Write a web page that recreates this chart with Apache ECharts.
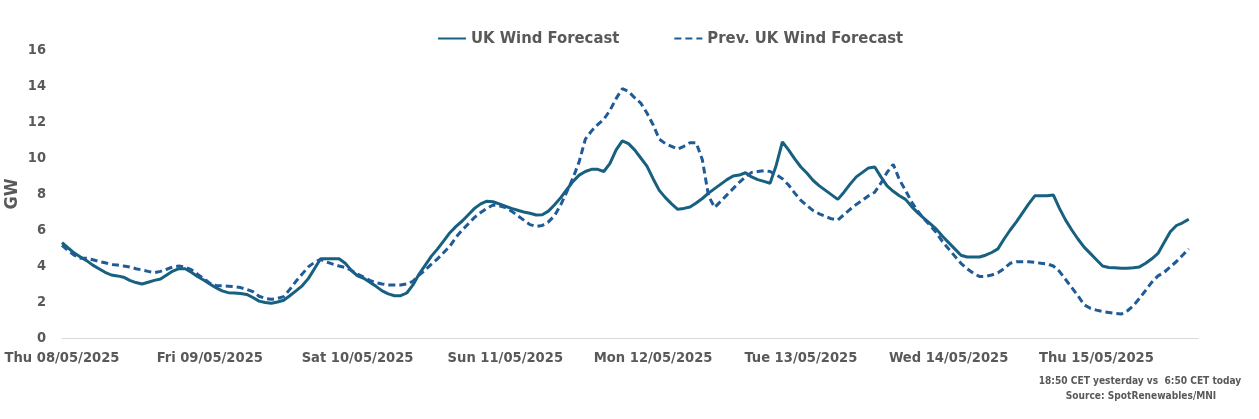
<!DOCTYPE html>
<html>
<head>
<meta charset="utf-8">
<script src="https://cdn.jsdelivr.net/npm/echarts@6/dist/echarts.min.js"></script>
<style>
html,body{margin:0;padding:0;background:#fff;}
#chart{width:1259px;height:419px;}
</style>
</head>
<body>
<div id="chart"></div>
<script>
// Day labels (one per 24 hours from Thu 08/05/2025 00:00)
const dayLabels = ["Thu 08/05/2025","Fri 09/05/2025","Sat 10/05/2025","Sun 11/05/2025","Mon 12/05/2025","Tue 13/05/2025","Wed 14/05/2025","Thu 15/05/2025"];
const yTicks = [0,2,4,6,8,10,12,14,16];

// Hourly values, GW (hour 0 = Thu 08/05/2025 00:00)
const ukWindForecast = [
5.3,5.0,4.72,4.5,4.3,4.05,3.85,3.65,3.5,3.45,3.38,3.2,3.08,3.0,3.1,3.2,3.28,3.5,3.72,3.85,3.85,3.65,3.42,3.22,
3.0,2.8,2.62,2.52,2.5,2.47,2.42,2.25,2.05,1.97,1.93,2.0,2.1,2.35,2.62,2.9,3.3,3.85,4.4,4.4,4.4,4.4,4.15,3.75,
3.45,3.32,3.1,2.87,2.62,2.45,2.35,2.35,2.5,2.95,3.55,4.05,4.55,4.95,5.4,5.85,6.2,6.5,6.85,7.2,7.45,7.6,7.57,7.45,
7.32,7.2,7.1,7.0,6.93,6.83,6.85,7.05,7.4,7.8,8.25,8.7,9.05,9.25,9.37,9.37,9.25,9.7,10.45,10.95,10.8,10.45,10.0,9.55,
8.85,8.2,7.8,7.45,7.15,7.2,7.28,7.5,7.75,8.05,8.3,8.55,8.8,9.0,9.05,9.18,8.95,8.8,8.7,8.6,9.6,10.9,10.45,9.95,
9.5,9.15,8.75,8.45,8.2,7.95,7.7,8.1,8.55,8.95,9.2,9.45,9.5,8.95,8.45,8.15,7.9,7.7,7.3,6.95,6.65,6.35,6.05,5.65,
5.3,4.95,4.6,4.5,4.5,4.5,4.6,4.75,4.95,5.5,6.0,6.45,6.95,7.45,7.9,7.9,7.9,7.95,7.2,6.55,6.0,5.5,5.05,4.7,
4.35,4.0,3.92,3.9,3.88,3.88,3.9,3.95,4.15,4.4,4.7,5.3,5.9,6.25,6.4,6.6
];
const prevUkWindForecast = [
5.15,4.85,4.6,4.43,4.43,4.35,4.25,4.18,4.08,4.05,4.0,3.95,3.85,3.78,3.7,3.63,3.7,3.82,3.95,4.0,3.93,3.8,3.55,3.3,
3.05,2.92,2.9,2.88,2.85,2.8,2.7,2.58,2.32,2.2,2.15,2.2,2.3,2.7,3.15,3.55,3.95,4.2,4.37,4.22,4.1,4.0,3.92,3.75,
3.55,3.38,3.2,3.07,3.0,2.95,2.94,2.94,3.0,3.15,3.5,3.78,4.1,4.4,4.75,5.1,5.6,6.0,6.35,6.7,6.97,7.2,7.39,7.35,
7.25,7.05,6.8,6.55,6.3,6.2,6.25,6.45,6.8,7.4,8.13,8.9,9.8,11.05,11.5,11.85,12.15,12.65,13.3,13.85,13.7,13.35,13.05,12.5,
11.85,11.05,10.8,10.65,10.5,10.65,10.85,10.85,9.9,7.9,7.25,7.6,7.95,8.3,8.65,8.95,9.2,9.25,9.3,9.25,9.07,8.85,8.5,8.05,
7.65,7.35,7.08,6.9,6.75,6.62,6.56,6.85,7.15,7.42,7.65,7.9,8.1,8.6,9.2,9.65,8.8,8.2,7.55,7.05,6.62,6.25,5.85,5.35,
4.95,4.55,4.15,3.85,3.6,3.42,3.42,3.5,3.62,3.85,4.15,4.24,4.24,4.23,4.2,4.15,4.12,4.0,3.7,3.25,2.8,2.35,1.85,1.65,
1.55,1.47,1.42,1.37,1.33,1.5,1.8,2.2,2.65,3.1,3.45,3.65,3.95,4.25,4.6,4.95
];

const toPairs = arr => arr.map((v, i) => [i, v]);
const FONT = '"DejaVu Sans Condensed","Liberation Sans Narrow","Liberation Sans",sans-serif';
const GREY = '#595959';

const chart = echarts.init(document.getElementById('chart'));
chart.setOption({
  animation: false,
  backgroundColor: '#fff',
  grid: {left: 62, right: 61, top: 50, bottom: 81, containLabel: false, outerBoundsMode: 'none'},
  legend: {
    top: 25, left: 432,
    itemWidth: 28, itemHeight: 3, itemGap: 54,
    itemStyle: {opacity: 0},
    textStyle: {fontFamily: FONT, fontWeight: 'bold', fontSize: 16.5, color: GREY},
    data: ['UK Wind Forecast', 'Prev. UK Wind Forecast']
  },
  xAxis: {
    type: 'value', min: 0, max: 184.5, interval: 24,
    axisLine: {show: true, lineStyle: {color: '#d9d9d9', width: 1}},
    axisTick: {show: false},
    splitLine: {show: false},
    axisLabel: {
      showMaxLabel: false, margin: 13,
      fontFamily: FONT, fontWeight: 'bold', fontSize: 14.6, color: GREY,
      formatter: v => dayLabels[Math.round(v / 24)] || ''
    }
  },
  yAxis: {
    type: 'value', min: 0, max: 16, interval: 2,
    axisLine: {show: false}, axisTick: {show: false}, splitLine: {show: false},
    axisLabel: {
      margin: 16, fontFamily: FONT, fontWeight: 'bold', fontSize: 14.5, color: GREY,
      formatter: v => yTicks.includes(v) ? String(v) : ''
    }
  },
  series: [
    {
      name: 'UK Wind Forecast', type: 'line', data: toPairs(ukWindForecast),
      symbol: 'none', smooth: false,
      lineStyle: {color: '#17607f', width: 3},
      itemStyle: {color: '#17607f'}
    },
    {
      name: 'Prev. UK Wind Forecast', type: 'line', data: toPairs(prevUkWindForecast),
      symbol: 'none', smooth: false,
      lineStyle: {color: '#1f5c97', width: 3, type: [7, 4]},
      itemStyle: {color: '#1f5c97'}
    }
  ],
  graphic: [
    {type: 'text', x: 12, y: 194, rotation: Math.PI / 2, style: {text: 'GW', fontFamily: FONT, fontWeight: 'bold', fontSize: 18, fill: GREY, textAlign: 'center', textVerticalAlign: 'middle'}},
    {type: 'text', x: 1140, y: 381, style: {text: '18:50 CET yesterday vs  6:50 CET today', fontFamily: FONT, fontWeight: 'bold', fontSize: 10.1, fill: GREY, textAlign: 'center', textVerticalAlign: 'middle'}},
    {type: 'text', x: 1141, y: 396, style: {text: 'Source: SpotRenewables/MNI', fontFamily: FONT, fontWeight: 'bold', fontSize: 10.1, fill: GREY, textAlign: 'center', textVerticalAlign: 'middle'}}
  ]
});
</script>
</body>
</html>
